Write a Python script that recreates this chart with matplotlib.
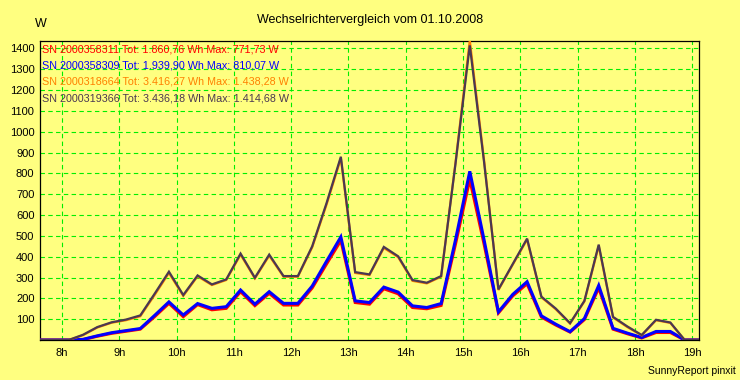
import matplotlib.pyplot as plt
import pandas as pd

# 15-minute samples, 07:37 .. 19:07
times = pd.date_range("2008-10-01 07:37", "2008-10-01 19:07", freq="15min")

sn_358311 = [0, 0, 0, 2, 18, 32, 42, 52, 112, 176, 112, 170, 145, 152, 232, 165,
             224, 168, 168, 250, 365, 478, 180, 172, 246, 222, 156, 150, 166, 460,
             771.73, 460, 130, 212, 270, 110, 72, 38, 98, 250, 52, 30, 10, 36, 36, 0, 0]
sn_358309 = [0, 0, 0, 3, 20, 35, 45, 55, 118, 183, 120, 175, 152, 160, 240, 172,
             232, 176, 176, 259, 378, 495, 188, 180, 254, 230, 164, 156, 175, 480,
             810.07, 480, 135, 219, 280, 116, 76, 40, 103, 262, 56, 33, 12, 41, 41, 0, 0]
sn_318664 = [0, 0, 0, 23, 60, 83, 95, 114, 216, 322, 212, 306, 264, 288, 410, 296,
             405, 304, 304, 445, 650, 872, 322, 312, 442, 398, 284, 272, 304, 850,
             1438.28, 862, 240, 362, 482, 205, 148, 79, 185, 452, 108, 62, 22, 95, 82, 0, 0]
sn_319366 = [0, 0, 0, 25, 62, 85, 98, 118, 222, 328, 216, 310, 267, 291, 415, 299,
             410, 307, 307, 450, 657, 880, 326, 315, 447, 402, 288, 275, 307, 845,
             1414.68, 853, 243, 365, 487, 208, 151, 81, 188, 458, 111, 65, 24, 97, 84, 0, 0]

names = ["SN 2000358311", "SN 2000358309", "SN 2000318664", "SN 2000319366"]
totals = ["1.860,76", "1.939,90", "3.416,27", "3.436,18"]
maxima = ["771,73", "810,07", "1.438,28", "1.414,68"]
colors = ["#ff0000", "#0000ff", "#ff8000", "#4a3852"]
hour_ticks = list(range(8, 20))

hours = times.hour + times.minute / 60.0

plt.rcParams["font.family"] = ["Liberation Sans", "DejaVu Sans"]

fig = plt.figure(figsize=(7.4, 3.8), dpi=100, facecolor="#ffff80")
ax = fig.add_axes([40 / 740, 40 / 380, 659 / 740, 299.5 / 380])
ax.set_facecolor("#ffff80")

series = [sn_358311, sn_358309, sn_318664, sn_319366]
widths = [2.2, 2.2, 1.6, 1.6]
for vals, col, lw in zip(series, colors, widths):
    ax.plot(hours, vals, color=col, linewidth=lw, solid_joinstyle="miter", zorder=3)

ax.set_xlim(hours[0], hours[-1])
ax.set_ylim(0, max(max(s) for s in series))
ax.set_xticks(hour_ticks)
ax.set_xticklabels([f"{h}h" for h in hour_ticks])
ax.set_yticks(range(100, 1500, 100))
ax.tick_params(length=0, labelsize=8, pad=4)
ax.tick_params(axis="x", pad=6)
ax.grid(True, color="#00ee00", linestyle=(0, (4, 3)), linewidth=0.8, zorder=1)
ax.set_axisbelow(True)
for sp in ax.spines.values():
    sp.set_color("black")
    sp.set_linewidth(0.9)

for i, (n, t, m, c) in enumerate(zip(names, totals, maxima, colors)):
    ax.text(2 / 659, 1 - (9 + 16.2 * i) / 299.5, f"{n} Tot: {t} Wh Max: {m} W",
            transform=ax.transAxes, color=c, fontsize=7.75, va="center", ha="left",
            zorder=4)

fig.text(0.5, 1 - 20 / 380, "Wechselrichtervergleich vom 01.10.2008",
         ha="center", va="center", fontsize=9)
fig.text(41 / 740, 1 - 24 / 380, "W", ha="center", va="center", fontsize=9)
fig.text(736 / 740, 1 - 371 / 380, "SunnyReport pinxit", ha="right",
         va="center", fontsize=7.5)

fig.savefig("out.png", dpi=100, facecolor=fig.get_facecolor())
plt.close(fig)
